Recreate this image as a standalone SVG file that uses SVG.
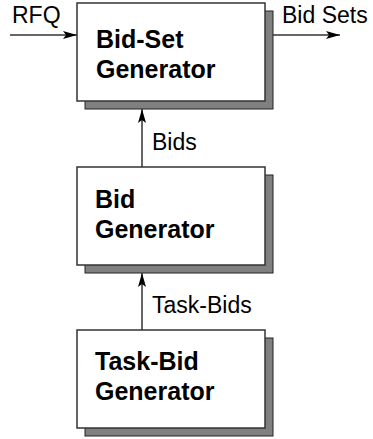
<svg xmlns="http://www.w3.org/2000/svg" width="373" height="439" viewBox="0 0 373 439">
<defs>
<style>
.shadow{fill:#808080;stroke:#222;stroke-width:1}
.box{fill:#fff;stroke:#333;stroke-width:1.5}
.title{font-family:"Liberation Sans",Arial,sans-serif;font-weight:bold;font-size:25px;fill:#000}
.lbl{font-family:"Liberation Sans",Arial,sans-serif;font-size:23px;fill:#000}
.conn{stroke:#333;stroke-width:1.5;fill:none}
</style>
<marker id="ah" viewBox="0 0 14 10" refX="14" refY="5" markerWidth="14" markerHeight="10" markerUnits="userSpaceOnUse" orient="auto">
<path d="M0,1 L14,5 L0,9 L3,5 Z" fill="#000"/>
</marker>
</defs>
<rect width="373" height="439" fill="#fff"/>
<g id="bidset-generator">
<rect class="shadow" x="85" y="11" width="188" height="98"/>
<rect class="box" x="77" y="3" width="188" height="98"/>
<text class="title" x="96" y="48">Bid-Set</text>
<text class="title" x="96" y="78">Generator</text>
</g>
<g id="bid-generator">
<rect class="shadow" x="85" y="175" width="188" height="98"/>
<rect class="box" x="77" y="167" width="188" height="98"/>
<text class="title" x="95" y="208">Bid</text>
<text class="title" x="95" y="238">Generator</text>
</g>
<g id="taskbid-generator">
<rect class="shadow" x="85" y="338" width="188" height="98"/>
<rect class="box" x="77" y="330" width="188" height="98"/>
<text class="title" x="95" y="370">Task-Bid</text>
<text class="title" x="95" y="400">Generator</text>
</g>
<g id="connectors">
<line class="conn" x1="10" y1="35" x2="77" y2="35" marker-end="url(#ah)"/>
<line class="conn" x1="273" y1="35" x2="340" y2="35" marker-end="url(#ah)"/>
<line class="conn" x1="142" y1="167" x2="142" y2="109" marker-end="url(#ah)"/>
<line class="conn" x1="142" y1="330" x2="142" y2="273" marker-end="url(#ah)"/>
</g>
<g id="labels">
<text class="lbl" x="12" y="23">RFQ</text>
<text class="lbl" x="282" y="23">Bid Sets</text>
<text class="lbl" x="152" y="150">Bids</text>
<text class="lbl" x="152" y="313">Task-Bids</text>
</g>
</svg>
